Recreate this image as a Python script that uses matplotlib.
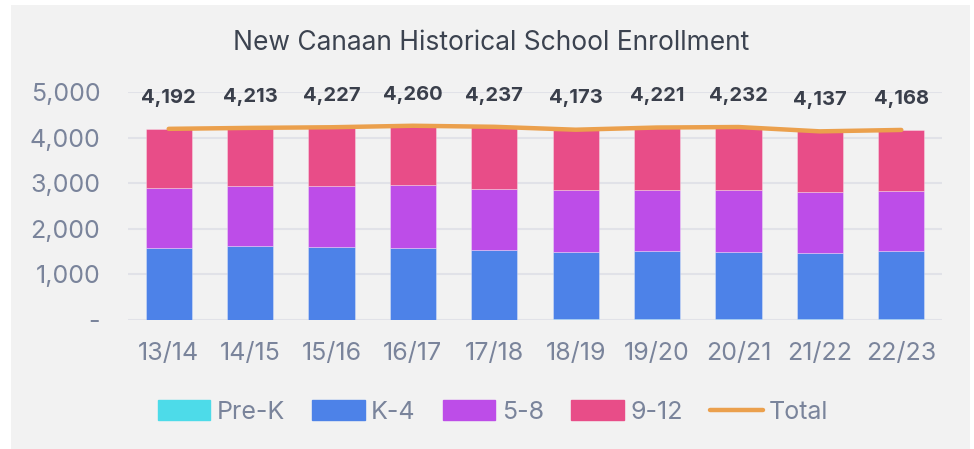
import matplotlib.pyplot as plt
import matplotlib.patches as mpatches
from matplotlib.lines import Line2D
import numpy as np

plt.rcParams['font.family'] = ['Inter', 'DejaVu Sans']

years = ['13/14', '14/15', '15/16', '16/17', '17/18', '18/19', '19/20', '20/21', '21/22', '22/23']
prek = [0, 0, 0, 0, 0, 20, 20, 20, 30, 30]
k4 = [1574, 1626, 1596, 1582, 1530, 1474, 1503, 1466, 1434, 1478]
g58 = [1327, 1304, 1340, 1376, 1349, 1354, 1334, 1362, 1340, 1318]
g912 = [1291, 1283, 1291, 1302, 1358, 1325, 1364, 1384, 1333, 1342]
total = [4192, 4213, 4227, 4260, 4237, 4173, 4221, 4232, 4137, 4168]

c_prek = '#4ddbe9'
c_k4 = '#4d82e8'
c_58 = '#bd4de8'
c_912 = '#e84d88'
c_tot = '#eba04d'
tick_col = '#7a849b'

fig = plt.figure(figsize=(9.74, 4.49), dpi=100)
fig.patch.set_facecolor('white')
# grey card behind the chart
fig.patches.append(mpatches.Rectangle((11 / 974, 0), 959 / 974, 444 / 449,
                                      transform=fig.transFigure, facecolor='#f2f2f2',
                                      edgecolor='none', zorder=-10))
ax = fig.add_axes([128 / 974, 1 - 320 / 449, 814 / 974, 228 / 449])
ax.set_facecolor('none')

x = np.arange(len(years))
w = 0.57
ec = dict(edgecolor=(1, 1, 1, 0.35), linewidth=0.6)
ax.bar(x, prek, w, color=c_prek, zorder=3, **ec)
b1 = np.array(prek)
ax.bar(x, k4, w, bottom=b1, color=c_k4, zorder=3, **ec)
b2 = b1 + np.array(k4)
ax.bar(x, g58, w, bottom=b2, color=c_58, zorder=3, **ec)
b3 = b2 + np.array(g58)
ax.bar(x, g912, w, bottom=b3, color=c_912, zorder=3, **ec)

ax.plot(x, total, color=c_tot, lw=3.2, solid_capstyle='round', zorder=4)
for xi, t in zip(x, total):
    ax.annotate(f'{t:,}', (xi, t), xytext=(0, 16), textcoords='offset points',
                ha='center', va='bottom', fontsize=14.5, fontweight='bold',
                color='#3a3f4b', annotation_clip=False)

ax.set_xlim(-0.5, len(years) - 0.5)
ax.set_ylim(0, 5000)
ax.set_yticks([0, 1000, 2000, 3000, 4000, 5000])
ax.set_yticklabels(['-', '1,000', '2,000', '3,000', '4,000', '5,000'])
ax.set_xticks(x)
ax.set_xticklabels(years)
ax.tick_params(axis='both', length=0, labelsize=18, colors=tick_col)
ax.tick_params(axis='y', pad=20)
ax.tick_params(axis='x', pad=16)
ax.grid(axis='y', color='#e1e2e8', lw=1.5, zorder=0)
for s in ax.spines.values():
    s.set_visible(False)

fig.text(0.504, 1 - 43 / 449, 'New Canaan Historical School Enrollment',
         ha='center', va='center', fontsize=19, color='#3c4350')

handles = [mpatches.Patch(color=c_prek, label='Pre-K'),
           mpatches.Patch(color=c_k4, label='K-4'),
           mpatches.Patch(color=c_58, label='5-8'),
           mpatches.Patch(color=c_912, label='9-12'),
           Line2D([0], [0], color=c_tot, lw=3.2, solid_capstyle='round', label='Total')]
leg = fig.legend(handles=handles, loc='center', bbox_to_anchor=(0.506, 1 - 412 / 449),
                 ncol=5, frameon=False, fontsize=18, handlelength=2.1, handleheight=0.85,
                 handletextpad=0.25, columnspacing=1.1)
for t in leg.get_texts():
    t.set_color(tick_col)

fig.savefig('out.png', dpi=100, facecolor=fig.get_facecolor())
